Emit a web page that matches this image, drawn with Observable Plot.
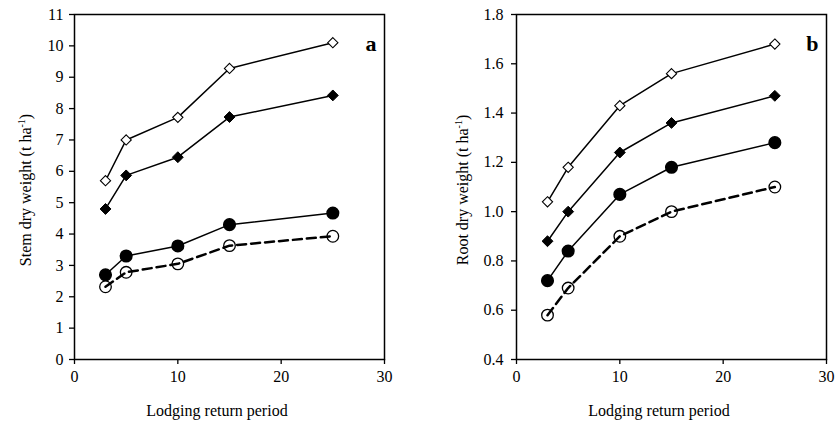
<!DOCTYPE html>
<html>
<head>
<meta charset="utf-8">
<script src="https://cdn.jsdelivr.net/npm/d3@7"></script>
<script src="https://cdn.jsdelivr.net/npm/@observablehq/plot@0.6"></script>
<style>
  html, body { margin: 0; padding: 0; background: #fff; }
  #wrap { position: relative; width: 838px; height: 428px; font-family: "Liberation Serif", "Times New Roman", serif; }
  #wrap > div { position: absolute; top: 0; }
  svg text { font-family: "Liberation Serif", "Times New Roman", serif; }
</style>
</head>
<body>
<div id="wrap"><div id="pa" style="left:0"></div><div id="pb" style="left:430px"></div></div>
<script>
// Shared x values
const period = [3, 5, 10, 15, 25];
const xTicks = [0, 10, 20, 30];

// Panel a: stem dry weight (t ha-1)
const stemOpenDiamond = [5.70, 7.00, 7.72, 9.28, 10.10];
const stemFilledDiamond = [4.80, 5.87, 6.45, 7.73, 8.42];
const stemFilledCircle = [2.70, 3.30, 3.62, 4.30, 4.67];
const stemOpenCircle = [2.32, 2.78, 3.05, 3.63, 3.93];
const stemTicks = [0, 1, 2, 3, 4, 5, 6, 7, 8, 9, 10, 11];

// Panel b: root dry weight (t ha-1)
const rootOpenDiamond = [1.04, 1.18, 1.43, 1.56, 1.68];
const rootFilledDiamond = [0.88, 1.00, 1.24, 1.36, 1.47];
const rootFilledCircle = [0.72, 0.84, 1.07, 1.18, 1.28];
const rootOpenCircle = [0.58, 0.69, 0.90, 1.00, 1.10];
const rootTicks = [0.4, 0.6, 0.8, 1.0, 1.2, 1.4, 1.6, 1.8];

const toRows = (vals) => period.map((x, i) => ({x, y: vals[i]}));

function seriesMarks(od, fd, fc, oc) {
  const rOD = toRows(od), rFD = toRows(fd), rFC = toRows(fc), rOC = toRows(oc);
  return [
    Plot.line(rOD, {x: "x", y: "y", stroke: "black", strokeWidth: 1.5}),
    Plot.line(rFD, {x: "x", y: "y", stroke: "black", strokeWidth: 1.5}),
    Plot.line(rFC, {x: "x", y: "y", stroke: "black", strokeWidth: 1.5}),
    Plot.line(rOC, {x: "x", y: "y", stroke: "black", strokeWidth: 2.5, strokeDasharray: "9,5"}),
    Plot.dot(rOD, {x: "x", y: "y", symbol: "diamond2", r: 4.6, stroke: "black", strokeWidth: 1.1, fill: "white"}),
    Plot.dot(rFD, {x: "x", y: "y", symbol: "diamond2", r: 4.9, stroke: "black", strokeWidth: 1, fill: "black"}),
    Plot.dot(rFC, {x: "x", y: "y", r: 5.8, stroke: "black", fill: "black"}),
    Plot.dot(rOC, {x: "x", y: "y", r: 5.8, stroke: "black", strokeWidth: 1.3, fill: "none"})
  ];
}

function makePanel(opts) {
  const plot = Plot.plot({
    width: opts.width, height: 428,
    marginLeft: opts.ml, marginRight: opts.mr, marginTop: 14, marginBottom: 69,
    style: {fontFamily: "Liberation Serif, Times New Roman, serif", fontSize: "16px", color: "black", background: "white"},
    x: {domain: [0, 30], ticks: xTicks, label: null},
    y: {domain: opts.ydomain, ticks: opts.yticks, label: null, tickFormat: opts.yfmt},
    marks: [
      Plot.frame({stroke: "black", strokeWidth: 1.5}),
      Plot.axisX({ticks: xTicks, tickSize: 5, tickPadding: 6, fontSize: 16, stroke: "black", strokeWidth: 1.3, label: null}),
      Plot.axisY({ticks: opts.yticks, tickSize: 5, tickPadding: opts.tp, fontSize: 16, stroke: "black", strokeWidth: 1.3, label: null, tickFormat: opts.yfmt}),
      ...seriesMarks(...opts.series),
      Plot.text([opts.letter], {frameAnchor: "top-right", textAnchor: "end", dx: -8, dy: 21, fontSize: 22, fontWeight: "bold", text: d => d})
    ]
  });
  const svg = d3.select(plot);
  // x axis title
  svg.append("text").attr("x", opts.xlx).attr("y", 416).attr("text-anchor", "middle")
    .attr("font-size", 16).attr("fill", "black").text("Lodging return period");
  // y axis title with superscript
  const t = svg.append("text").attr("transform", `translate(${opts.ylx},${opts.yly}) rotate(-90)`)
    .attr("text-anchor", "middle").attr("font-size", 16).attr("fill", "black");
  t.append("tspan").text(opts.ytitle + " (t ha");
  t.append("tspan").attr("dy", -6).attr("font-size", 10).text("-1");
  t.append("tspan").attr("dy", 6).text(")");
  return plot;
}

document.getElementById("pa").appendChild(makePanel({
  width: 430, ml: 74, mr: 46, ydomain: [0, 11], yticks: stemTicks, yfmt: d => String(d), tp: 6,
  series: [stemOpenDiamond, stemFilledDiamond, stemFilledCircle, stemOpenCircle],
  letter: "a", xlx: 217, ylx: 31, yly: 190, ytitle: "Stem dry weight"
}));
document.getElementById("pb").appendChild(makePanel({
  width: 408, ml: 86, mr: 12, ydomain: [0.4, 1.8], yticks: rootTicks, yfmt: d => d.toFixed(1), tp: 8,
  series: [rootOpenDiamond, rootFilledDiamond, rootFilledCircle, rootOpenCircle],
  letter: "b", xlx: 229, ylx: 38, yly: 190, ytitle: "Root dry weight"
}));
</script>
</body>
</html>
